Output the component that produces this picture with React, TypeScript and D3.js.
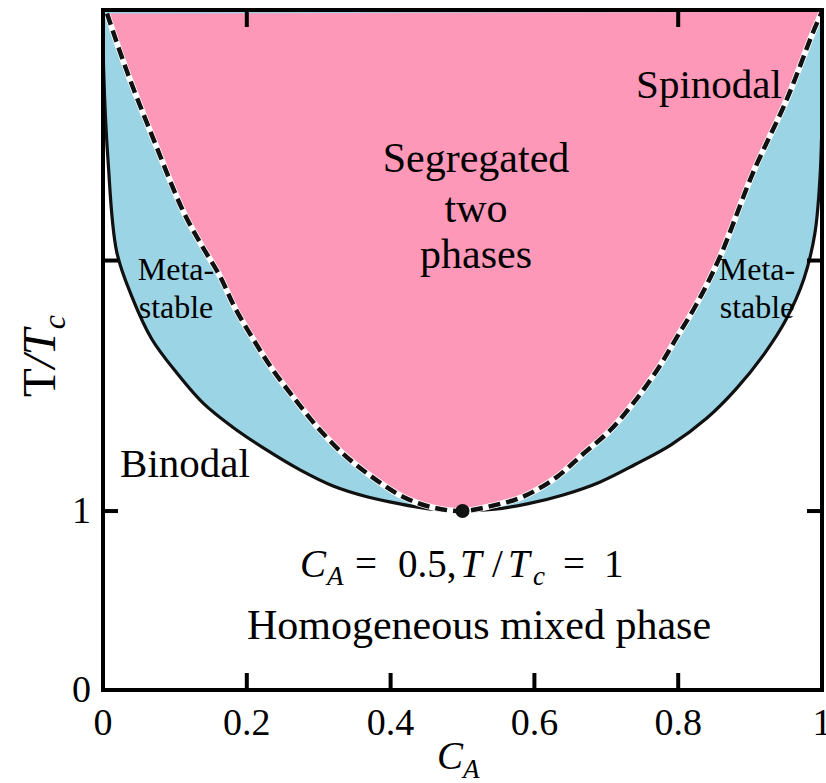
import { useEffect, useRef } from 'react'
import * as d3 from 'd3'

const W = 826
const H = 783
const PLOT = { left: 103, right: 822, top: 10, bottom: 690 }

// composition ticks
const C_TICKS = [0, 0.2, 0.4, 0.6, 0.8, 1]
const C_TICK_LABELS = ['0', '0.2', '0.4', '0.6', '0.8', '1']
const C_TOP_TICKS = [0.2, 0.8]
// temperature ticks (the upper one carries no label)
const T_TICKS = [0, 1, 2.4]
const T_TICK_LABELS = ['0', '1', '']

// curves: [C_A, T/Tc]
const BINODAL_LEFT = [
  [0, 3.8], [0.001, 3.45], [0.007, 2.96], [0.019, 2.45], [0.04, 2.2], [0.068, 1.96],
  [0.103, 1.77], [0.14, 1.6], [0.18, 1.47], [0.228, 1.34], [0.274, 1.23],
  [0.32, 1.14], [0.367, 1.08], [0.413, 1.04], [0.458, 1.01], [0.5, 1.0],
]
const BINODAL_RIGHT = [
  [0.5, 1.0], [0.545, 1.01], [0.59, 1.04], [0.64, 1.09], [0.69, 1.16], [0.74, 1.26],
  [0.79, 1.37], [0.84, 1.52], [0.88, 1.68], [0.92, 1.88], [0.95, 2.07],
  [0.975, 2.3], [0.99, 2.55], [0.997, 2.85], [1, 3.2], [1, 3.8],
]
const SPINODAL_LEFT = [
  [0.0056, 3.78], [0.033, 3.46], [0.072, 3.06], [0.111, 2.68], [0.135, 2.5],
  [0.163, 2.31], [0.183, 2.14], [0.209, 1.96], [0.236, 1.79], [0.268, 1.62],
  [0.298, 1.47], [0.334, 1.32], [0.371, 1.2], [0.417, 1.08], [0.459, 1.02], [0.5, 1.0],
]
const SPINODAL_RIGHT = [
  [0.5, 1.0], [0.542, 1.03], [0.584, 1.08], [0.631, 1.19], [0.668, 1.32],
  [0.705, 1.45], [0.737, 1.6], [0.771, 1.79], [0.798, 1.97], [0.826, 2.16],
  [0.858, 2.42], [0.904, 2.89], [0.951, 3.3], [0.987, 3.67], [1, 3.79],
]
const CRITICAL = [0.5, 1.0]

const PINK = '#fe98b9'
const BLUE = '#9bd5e5'
const SERIF = "'Liberation Serif', 'Times New Roman', Times, 'DejaVu Serif', serif"

export default function App() {
  const svgRef = useRef(null)

  useEffect(() => {
    const el = svgRef.current
    if (!el) return
    d3.select(el).selectAll('*').remove()
    const svg = d3.select(el).style('font-family', SERIF)

    const x = d3.scaleLinear().domain([0, 1]).range([PLOT.left, PLOT.right])
    const y = d3.scaleLinear().domain([0, 3.8]).range([PLOT.bottom, PLOT.top])

    svg.append('defs').append('clipPath').attr('id', 'plot-clip')
      .append('rect')
      .attr('x', PLOT.left).attr('y', PLOT.top)
      .attr('width', PLOT.right - PLOT.left).attr('height', PLOT.bottom - PLOT.top)

    const plot = svg.append('g').attr('clip-path', 'url(#plot-clip)')

    const line = d3.line()
      .x((d) => x(d[0])).y((d) => y(d[1]))
      .curve(d3.curveCatmullRom.alpha(0.5))

    const binodal = [...BINODAL_LEFT, ...BINODAL_RIGHT.slice(1)]
    const spinodal = [...SPINODAL_LEFT, ...SPINODAL_RIGHT.slice(1)]

    // metastable band (whole binodal dome), then unstable region on top
    plot.append('path').attr('d', line(binodal) + 'Z').attr('fill', BLUE)
    plot.append('path').attr('d', line(spinodal) + 'Z').attr('fill', PINK)

    // binodal
    plot.append('path').attr('d', line(binodal))
      .attr('fill', 'none').attr('stroke', '#111').attr('stroke-width', 3.2)

    // spinodal: white underlay + black dashes
    plot.append('path').attr('d', line(spinodal))
      .attr('fill', 'none').attr('stroke', '#fff').attr('stroke-width', 6)
    plot.append('path').attr('d', line(spinodal))
      .attr('fill', 'none').attr('stroke', '#111').attr('stroke-width', 4.5)
      .attr('stroke-dasharray', '12 6')

    plot.append('circle')
      .attr('cx', x(CRITICAL[0])).attr('cy', y(CRITICAL[1]))
      .attr('r', 7).attr('fill', '#111')

    // frame
    svg.append('rect')
      .attr('x', PLOT.left).attr('y', PLOT.top)
      .attr('width', PLOT.right - PLOT.left).attr('height', PLOT.bottom - PLOT.top)
      .attr('fill', 'none').attr('stroke', '#000').attr('stroke-width', 4)

    const ticks = svg.append('g').attr('stroke', '#000').attr('stroke-width', 4)
    C_TICKS.filter((v) => v > 0 && v < 1).forEach((v) => {
      ticks.append('line').attr('x1', x(v)).attr('x2', x(v))
        .attr('y1', PLOT.bottom).attr('y2', PLOT.bottom - 17)
    })
    C_TOP_TICKS.forEach((v) => {
      ticks.append('line').attr('x1', x(v)).attr('x2', x(v))
        .attr('y1', PLOT.top).attr('y2', PLOT.top + 17)
    })
    T_TICKS.filter((v) => v > 0).forEach((v) => {
      ticks.append('line').attr('x1', PLOT.left).attr('x2', PLOT.left + 15)
        .attr('y1', y(v)).attr('y2', y(v))
      ticks.append('line').attr('x1', PLOT.right).attr('x2', PLOT.right - 15)
        .attr('y1', y(v)).attr('y2', y(v))
    })

    // tick labels
    const labels = svg.append('g').style('font-size', '38px').attr('fill', '#000')
    C_TICKS.forEach((v, i) => {
      labels.append('text').attr('x', x(v)).attr('y', 735)
        .attr('text-anchor', 'middle').text(C_TICK_LABELS[i])
    })
    T_TICKS.forEach((v, i) => {
      if (!T_TICK_LABELS[i]) return
      labels.append('text').attr('x', 91).attr('y', y(v) + 12)
        .attr('text-anchor', 'end').text(T_TICK_LABELS[i])
    })

    // axis titles
    const xt = svg.append('text').style('font-style', 'italic')
      .style('font-size', '39px').attr('x', 437).attr('y', 769)
    xt.append('tspan').text('C')
    xt.append('tspan').style('font-size', '27px').attr('dy', 9).text('A')

    const yt = svg.append('text').style('font-size', '47px')
      .attr('text-anchor', 'middle')
      .attr('transform', 'translate(55,356) rotate(-90)')
    yt.append('tspan').text('T')
    yt.append('tspan').style('font-style', 'italic').text('/T')
    yt.append('tspan').style('font-style', 'italic').style('font-size', '32px').attr('dy', 10).text('c')

    // region labels
    const ann = svg.append('g').attr('fill', '#000')
    const centered = (txt, cx, by, size) =>
      ann.append('text').attr('x', cx).attr('y', by).attr('text-anchor', 'middle')
        .style('font-size', `${size}px`).text(txt)
    centered('Segregated', 476, 172, 42)
    centered('two', 476, 222, 42)
    centered('phases', 476, 268, 42)
    centered('Spinodal', 709, 98, 41)
    centered('Binodal', 185, 477, 41)
    centered('Meta-', 176, 280, 32)
    centered('stable', 176, 318, 32)
    centered('Meta-', 757, 280, 32)
    centered('stable', 757, 318, 32)
    centered('Homogeneous mixed phase', 479, 639, 42)

    // critical point annotation
    const cp = ann.append('text').attr('y', 577).style('font-size', '39px')
    const piece = (txt, px, dy = 0, italic = false, sub = false) =>
      cp.append('tspan').attr('x', px).attr('dy', dy)
        .style('font-style', italic ? 'italic' : 'normal')
        .style('font-size', sub ? '27px' : '39px')
        .text(txt)
    piece('C', 300, 0, true)
    piece('A', 327, 8, true, true)
    piece('=', 355, -8)
    piece('0.5,', 398)
    piece('T', 460, 0, true)
    piece('/', 492)
    piece('T', 508, 0, true)
    piece('c', 533, 8, true, true)
    piece('=', 563, -8)
    piece('1', 604)
  }, [])

  return (
    <svg
      ref={svgRef}
      width={W}
      height={H}
      viewBox={`0 0 ${W} ${H}`}
      style={{ position: 'absolute', left: 0, top: 0, background: '#fff' }}
    />
  )
}
